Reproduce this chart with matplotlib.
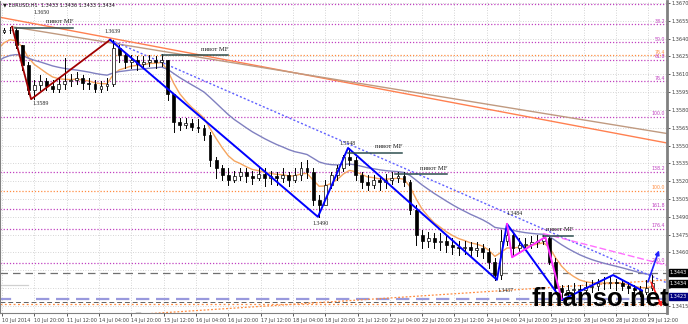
import numpy as np
import matplotlib.pyplot as plt

close = [1.3647, 1.3647, 1.3635, 1.3618, 1.3597, 1.3601, 1.3604, 1.3600, 1.3598, 1.3602,
         1.3604, 1.3605, 1.3607, 1.3603, 1.3602, 1.3598, 1.3600, 1.3602, 1.3632, 1.3626,
         1.3620, 1.3622, 1.3619, 1.3620, 1.3622, 1.3620, 1.3622, 1.3593, 1.3570, 1.3567,
         1.3569, 1.3566, 1.3565, 1.3559, 1.3538, 1.3531, 1.3525, 1.3521, 1.3524, 1.3528,
         1.3524, 1.3523, 1.3526, 1.3523, 1.3524, 1.3523, 1.3525, 1.3521, 1.3525, 1.3531,
         1.3528, 1.3504, 1.3500, 1.3517, 1.3525, 1.3531, 1.3540, 1.3538, 1.3525, 1.3519,
         1.3517, 1.3521, 1.3519, 1.3521, 1.3523, 1.3524, 1.3519, 1.3496, 1.3475, 1.3470,
         1.3472, 1.3469, 1.3470, 1.3466, 1.3465, 1.3464, 1.3465, 1.3462, 1.3464, 1.3460,
         1.3452, 1.3441, 1.3470, 1.3475, 1.3464, 1.3466, 1.3467, 1.3469, 1.3470, 1.3472,
         1.3452, 1.3430, 1.3427, 1.3428, 1.3429, 1.3428, 1.3431, 1.3432, 1.3434, 1.3434,
         1.3435, 1.3434, 1.3432, 1.3430, 1.3428, 1.3427, 1.3430, 1.3434]
high = [1.3649, 1.3650, 1.3649, 1.3635, 1.3620, 1.3605, 1.3609, 1.3607, 1.3605, 1.3607,
        1.3624, 1.3610, 1.3612, 1.3609, 1.3607, 1.3605, 1.3604, 1.3607, 1.3639, 1.3635,
        1.3629, 1.3626, 1.3625, 1.3625, 1.3626, 1.3625, 1.3627, 1.3622, 1.3593, 1.3573,
        1.3573, 1.3572, 1.3572, 1.3567, 1.3561, 1.3540, 1.3534, 1.3531, 1.3529, 1.3531,
        1.3531, 1.3529, 1.3533, 1.3531, 1.3529, 1.3528, 1.3531, 1.3528, 1.3531, 1.3536,
        1.3538, 1.3531, 1.3508, 1.3521, 1.3528, 1.3534, 1.3542, 1.3548, 1.3540, 1.3528,
        1.3525, 1.3525, 1.3524, 1.3526, 1.3528, 1.3528, 1.3528, 1.3521, 1.3500, 1.3479,
        1.3477, 1.3476, 1.3476, 1.3474, 1.3472, 1.3470, 1.3470, 1.3469, 1.3469, 1.3467,
        1.3464, 1.3455, 1.3479, 1.3484, 1.3477, 1.3472, 1.3472, 1.3474, 1.3475, 1.3475,
        1.3473, 1.3455, 1.3433, 1.3433, 1.3434, 1.3433, 1.3435, 1.3437, 1.3438, 1.3439,
        1.3439, 1.3438, 1.3437, 1.3435, 1.3433, 1.3432, 1.3437, 1.3441]
low = [1.3645, 1.3645, 1.3632, 1.3614, 1.3593, 1.3589, 1.3597, 1.3597, 1.3595, 1.3595,
       1.3598, 1.3600, 1.3602, 1.3598, 1.3598, 1.3595, 1.3595, 1.3597, 1.3600, 1.3620,
       1.3615, 1.3615, 1.3614, 1.3615, 1.3617, 1.3615, 1.3617, 1.3588, 1.3561, 1.3563,
       1.3565, 1.3563, 1.3561, 1.3555, 1.3533, 1.3523, 1.3521, 1.3517, 1.3519, 1.3521,
       1.3519, 1.3518, 1.3521, 1.3516, 1.3518, 1.3517, 1.3519, 1.3516, 1.3519, 1.3521,
       1.3523, 1.3500, 1.3490, 1.3504, 1.3514, 1.3521, 1.3529, 1.3534, 1.3521, 1.3514,
       1.3513, 1.3514, 1.3513, 1.3514, 1.3518, 1.3519, 1.3516, 1.3492, 1.3466, 1.3464,
       1.3465, 1.3464, 1.3462, 1.3460, 1.3459, 1.3458, 1.3459, 1.3457, 1.3457, 1.3455,
       1.3447, 1.3437, 1.3438, 1.3466, 1.3458, 1.3460, 1.3462, 1.3464, 1.3465, 1.3467,
       1.3450, 1.3427, 1.3420, 1.3423, 1.3424, 1.3423, 1.3426, 1.3427, 1.3428, 1.3429,
       1.3430, 1.3428, 1.3428, 1.3426, 1.3423, 1.3423, 1.3425, 1.3428]
first_open = 1.3646
ma_fast_start, ma_slow_start = 1.3633, 1.3622

xtick_labels = ['10 Jul 2014', '10 Jul 20:00', '11 Jul 12:00', '14 Jul 04:00', '14 Jul 20:00',
                '15 Jul 12:00', '16 Jul 04:00', '16 Jul 20:00', '17 Jul 12:00', '18 Jul 04:00',
                '18 Jul 20:00', '21 Jul 12:00', '22 Jul 04:00', '22 Jul 20:00', '23 Jul 12:00',
                '24 Jul 04:00', '24 Jul 20:00', '25 Jul 12:00', '28 Jul 04:00', '28 Jul 20:00',
                '29 Jul 12:00']
ytick_vals = ['1.3670', '1.3655', '1.3640', '1.3625', '1.3610', '1.3595', '1.3580', '1.3565',
              '1.3550', '1.3535', '1.3520', '1.3505', '1.3490', '1.3475', '1.3460', '1.3445',
              '1.3430', '1.3415']
hidden_ticks = ['1.3445', '1.3430']   # covered by the price boxes

# fibo levels: (price, label, colour)
fibo = [(1.3652, '38.2', 'v'), (1.3637, '50.0', 'v'), (1.3626, '76.4', 'o'), (1.3622, '61.8', 'v'),
        (1.3604, '76.4', 'v'), (1.3574, '100.0', 'v'), (1.3528, '138.2', 'v'), (1.3512, '100.0', 'o'),
        (1.3497, '161.8', 'v'), (1.3480, '176.4', 'v'), (1.3451, '200.0', 'v')]

# zigzags (bar index, price) on the hourly scale
zz_red = ([5, 14.4, 53.5], [1.3650, 1.3589, 1.3639])
zz_blue = ([53.5, 156.4, 171.3, 245, 250, 277.2, 302.5, 316.8],
           [1.3639, 1.3490, 1.3548, 1.3437, 1.3484, 1.3420, 1.3441, 1.3428])
zz_pink = ([250, 252.5, 269, 277], [1.3484, 1.3456, 1.3473, 1.3421])
# pivot MF segments: (x0, x1, price)
pivots = [(6.4, 35.2, 1.3649), (79.2, 111.9, 1.3626), (171.3, 198.0, 1.3544),
          (194.6, 220.3, 1.3526), (267.8, 282.7, 1.3474)]
peaks = [(15.8, 1.3662, '1.3650'), (15.3, 1.3585, '1.3589'), (51.0, 1.3646, '1.3639'),
         (167.3, 1.3552, '1.3548'), (153.5, 1.3484, '1.3490'), (250.0, 1.3493, '1.3484'),
         (245.5, 1.3428, '1.3437')]

VIO = '#c040c0'
ORG = '#ff8c40'

fig = plt.figure(figsize=(6.88, 3.24), dpi=100)
ax = fig.add_axes([0, 11 / 324, 667 / 688, 312 / 324])
ax.set_xlim(-0.99, 329.2)
ax.set_ylim(1.340906, 1.367168)

xt = [16 * k for k in range(len(xtick_labels))]
yt = [float(s) for s in ytick_vals]
ax.set_xticks(xt)
ax.set_xticklabels(xtick_labels, fontsize=3.6, ha='left')
ax.yaxis.tick_right()
ax.set_yticks(yt)
ax.set_yticklabels(['' if s in hidden_ticks else s for s in ytick_vals], fontsize=3.6)
ax.tick_params(axis='both', length=2, width=0.6, pad=1.5, colors='#404040')
ax.grid(True, color='#c8c8c8', linestyle=(0, (1, 2)), linewidth=0.6)
ax.set_axisbelow(True)
ax.spines['top'].set_visible(False)
ax.spines['right'].set_linewidth(2)
for s in ['left', 'bottom', 'right']:
    ax.spines[s].set_color('#808080')
ax.spines['left'].set_linewidth(0.8)
ax.spines['bottom'].set_linewidth(0.8)

# horizontal levels
ax.axhline(1.3669, color=VIO, ls=(0, (1, 1.5)), lw=0.9)
for p, lab, c in fibo:
    col = VIO if c == 'v' else ORG
    ax.axhline(p, color=col, ls=(0, (1, 1.5)), lw=0.9)
    ax.text(328.3, p + 0.00005, lab, color=col, fontsize=3.4, ha='right', va='bottom')
ax.axhline(1.3443, color='#707070', ls=(0, (6, 4)), lw=0.9)
ax.plot([-1, 13], [1.3433, 1.3433], color='#d0d0d0', lw=0.9)
ax.plot([-1, 4], [1.3421, 1.3421], color='#9999dd', lw=1.6)
ax.plot([17, 329.2], [1.3421, 1.3421], color='#9999dd', ls=(0, (6, 3)), lw=1.6)
ax.axhline(1.3418, color='#606060', ls=(0, (5, 3)), lw=0.7)
ax.axhline(1.3417, color=ORG, ls=(0, (1.5, 2)), lw=0.9)

# moving averages
ma_fast, ma_slow = [], []
f, s = ma_fast_start, ma_slow_start
for c in close:
    f = f + 0.25 * (c - f)
    s = s + 0.08 * (c - s)
    ma_fast.append(f)
    ma_slow.append(s)
xc = [3 * j + 1 for j in range(len(close))]
ax.plot([-1] + xc, [ma_fast_start] + ma_fast, color='#f5a55f', lw=1)
ax.plot([-1] + xc, [ma_slow_start] + ma_slow, color='#8080c0', lw=1)

# trend lines
ax.plot([-1, 329.7], [1.3658, 1.3552], color='#ff8050', lw=1)
ax.plot([5, 329.7], [1.3650, 1.3560], color='#c09a80', lw=1)
ax.plot([53.5, 329.7], [1.3639, 1.3434], color='#6060ff', ls=(0, (1.5, 1.5)), lw=1)
ax.plot([267.8, 329.7], [1.3476, 1.3449], color='#ff70ff', ls=(0, (5, 2)), lw=1)
ax.plot([68.3, 329.7], [1.3408, 1.3437], color=ORG, ls=(0, (1.5, 1.5)), lw=0.9)
ax.plot([66.5, 68.3], [1.3409, 1.3409], color='#202020', lw=1)

# candles
opens = [first_open] + close[:-1]
for x, o, h, l, c in zip(xc, opens, high, low, close):
    ax.plot([x, x], [l, h], color='black', lw=0.7, zorder=3)
    lo, hi = min(o, c), max(o, c)
    ax.bar(x, max(hi - lo, 0.00004), bottom=lo, width=1.4,
           color='white' if c > o else 'black', edgecolor='black', lw=0.5, zorder=4)

# zigzags
ax.plot(*zz_red, color='#a00000', lw=1.3, zorder=5)
ax.plot(*zz_blue, color='#0000ff', lw=1.4, zorder=5)
ax.plot(*zz_pink, color='#ff30ff', lw=1.4, zorder=5)
ax.annotate('', xy=(325.7, 1.3464), xytext=(319.3, 1.3433),
            arrowprops=dict(arrowstyle='-|>', color='#2020ff', lw=1.2, mutation_scale=6), zorder=6)
ax.annotate('', xy=(327.2, 1.3412), xytext=(320.8, 1.3437),
            arrowprops=dict(arrowstyle='-|>', color='#ff2020', lw=1.2, mutation_scale=6), zorder=6)

for x0, x1, p in pivots:
    ax.plot([x0, x1], [p, p], color='#2f4f4f', lw=1.1, zorder=5)
    ax.text(x1, p + 0.0003, 'пивот MF', fontsize=4.8, family='Liberation Serif',
            ha='right', va='bottom', color='#202020', zorder=6)
for x, p, lab in peaks:
    ax.text(x, p, lab, fontsize=4.2, family='Liberation Serif', ha='left', va='center',
            color='#202020', zorder=6)

# price boxes on the right scale
for p, lab, bg in [(1.3443, '1.3443', 'black'), (1.3434, '1.3434', 'black'), (1.3423, '1.3423', '#000080')]:
    ax.text(1.004, p, lab, transform=ax.get_yaxis_transform(), fontsize=3.6, color='white',
            ha='left', va='center', bbox=dict(boxstyle='square,pad=0.2', fc=bg, ec=bg), zorder=7)

fig.text(3 / 688, 1 - 5 / 324, '\u25bc EURUSD,H1  1.3433 1.3436 1.3433 1.3434', fontsize=3.6,
         ha='left', va='center', color='#202020')
fig.text(532 / 688, 1 - 306 / 324, 'finanso.net', fontsize=18.5, fontweight='bold',
         family='Liberation Sans', color='black', ha='left', va='baseline')

fig.savefig('out.png', dpi=100)
